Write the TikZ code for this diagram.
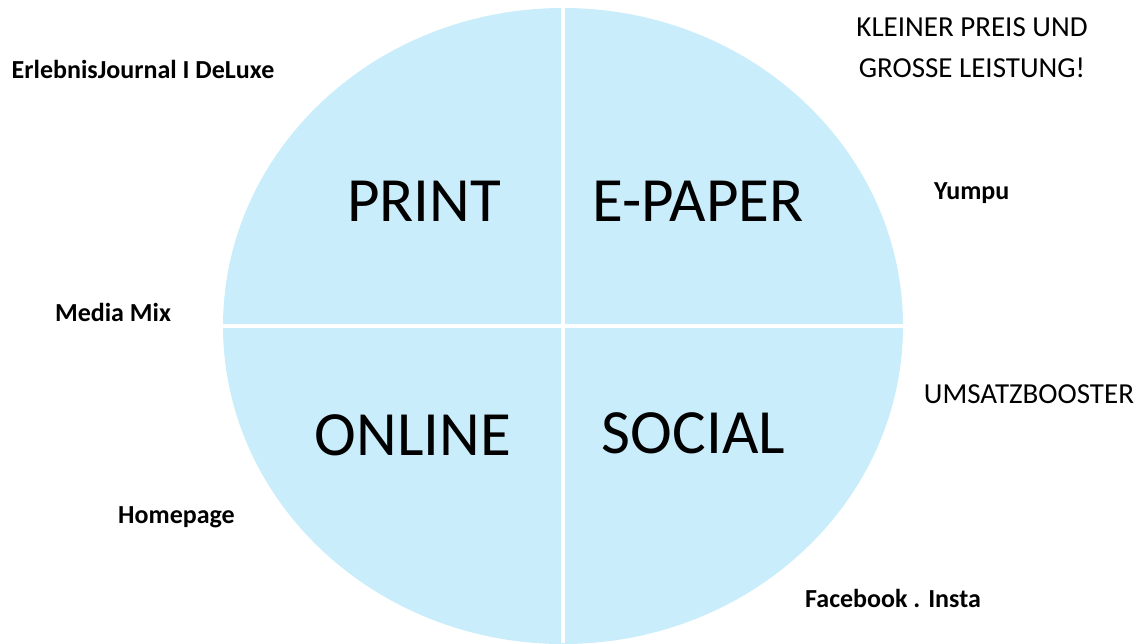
\documentclass[tikz,border=0pt]{standalone}
\usepackage{fontspec}
\setmainfont{Carlito}
\usepackage{tikz}
\usetikzlibrary{positioning}
\definecolor{paleblue}{RGB}{202,237,251}
\tikzset{quadlabel/.style={anchor=base,inner sep=0pt,font=\fontsize{63}{70}\selectfont},
         sidenote/.style={anchor=base,inner sep=0pt,font=\fontsize{26}{30}\selectfont\bfseries},
         slogan/.style={anchor=base,inner sep=0pt,font=\fontsize{29}{33}\selectfont}}

\begin{document}
\begin{tikzpicture}[x=1pt,y=-1pt]
                    \useasboundingbox (0,0) rectangle (1141,643);
                    \fill[paleblue] (563,326) ellipse [x radius=340, y radius=318];
                    \draw[white, line width=4pt] (223,326) -- (903,326);
                    \draw[white, line width=4pt] (563,8) -- (563,643);

                    \node[quadlabel] (print) at (424,221.7) {PRINT};
                    \node[quadlabel] (epaper) at (698,221.7) {E-PAPER};
                    \node[quadlabel] (online) at (413,455) {ONLINE};
                    \node[quadlabel] (social) at (693.5,453) {SOCIAL};

                    \node[sidenote] (journal) at (143,78.3) {ErlebnisJournal I DeLuxe};
                    \node[sidenote] (mediamix) at (113,321.7) {Media Mix};
                    \node[sidenote] (homepage) at (176.5,523.3) {Homepage};
                    \node[sidenote] (yumpu) at (971.7,199) {Yumpu};
                    \node[sidenote] (facebook) at (893,607.3) {Facebook . Insta};

                    \node[slogan] (preis) at (972,36.7) {KLEINER PREIS UND};
                    \node[slogan] (leistung) at (972,77) {GROSSE LEISTUNG!};
                    \node[slogan] (booster) at (1029,403) {UMSATZBOOSTER};
                \end{tikzpicture}
\end{document}
